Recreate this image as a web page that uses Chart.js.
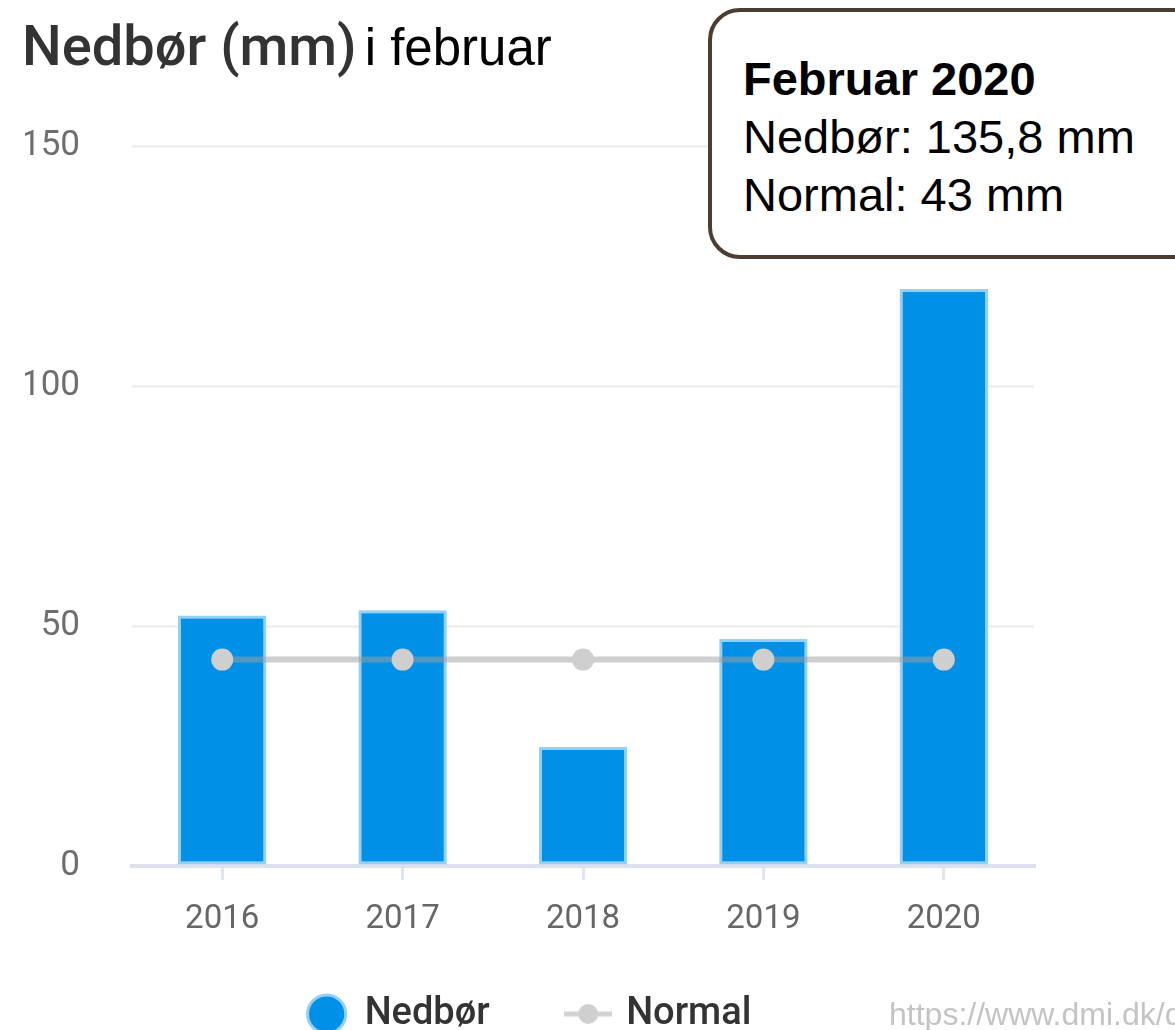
<!DOCTYPE html>
<html>
<head>
<meta charset="utf-8">
<script src="https://cdn.jsdelivr.net/npm/chart.js@4"></script>
<style>
  html, body { margin: 0; padding: 0; background: #fff; overflow: hidden; }
  #wrap { position: relative; width: 1175px; height: 1030px; overflow: hidden; }
  #chart { position: absolute; left: 0; top: 0; }
  #title { position: absolute; left: 22px; top: 18px; line-height: 56px; white-space: nowrap; }
  #title .a { font-family: Roboto, sans-serif; font-weight: 500; font-size: 56px; color: #333; }
  #title .b { font-family: "Liberation Sans", Arial, sans-serif; font-size: 51px; color: #000; margin-left: 8px; }
  #tip {
    position: absolute; left: 708px; top: 8px; width: 520px; height: 251px;
    box-sizing: border-box; border: 4px solid #4b3d31; border-radius: 32px; background: #fff;
    padding: 38px 0 0 31px; font-family: "Liberation Sans", Arial, sans-serif;
    font-size: 47px; line-height: 58px; color: #000; white-space: nowrap;
  }
  #tip b { font-weight: bold; }
  #src { position: absolute; left: 889px; top: 996px; font-family: "Liberation Sans", Arial, sans-serif;
    font-size: 32px; color: #c4c4c4; white-space: nowrap; }
</style>
</head>
<body>
<div id="wrap">
  <canvas id="chart" width="1175" height="1030"></canvas>
  <div id="title"><span class="a">Nedbør (mm)</span><span class="b">i februar</span></div>
  <div id="tip"><b>Februar 2020</b><br>Nedbør: 135,8 mm<br>Normal: 43 mm</div>
  <div id="src">https://www.dmi.dk/dokumentation</div>
</div>
<script>
// data
const years = ["2016", "2017", "2018", "2019", "2020"];
const nedbor = [52.2, 53.3, 24.8, 47.3, 120.2];
const normal = [43, 43, 43, 43, 43];
const yTicks = [0, 50, 100, 150];

// legend symbol for "Normal": a short line with a dot
const lineSymbol = document.createElement("canvas");
lineSymbol.width = 48;
lineSymbol.height = 22;
(function () {
    const c = lineSymbol.getContext("2d");
    c.strokeStyle = "#d2d2d2";
    c.lineWidth = 5;
    c.beginPath();
    c.moveTo(0, 11);
    c.lineTo(48, 11);
    c.stroke();
    c.fillStyle = "#cfcfcf";
    c.beginPath();
    c.arc(24, 11, 10, 0, Math.PI * 2);
    c.fill();
})();

Chart.defaults.font.family = "Roboto, sans-serif";

const ctx = document.getElementById("chart").getContext("2d");
new Chart(ctx, {
    type: "bar",
    data: {
        labels: years,
        datasets: [{
            type: "bar",
            label: "Nedbør",
            data: nedbor,
            backgroundColor: "#0090e8",
            borderColor: "#93d0f7",
            borderWidth: 3,
            borderSkipped: false,
            categoryPercentage: 1,
            barPercentage: 0.49,
            pointStyle: "circle",
            order: 1
        }, {
            type: "line",
            label: "Normal",
            data: normal,
            borderColor: "rgba(160,160,160,0.5)",
            borderWidth: 6,
            pointRadius: 11,
            pointBackgroundColor: "#cfcfcf",
            pointBorderWidth: 0,
            pointStyle: "circle",
            order: 0
        }]
    },
    options: {
        responsive: false,
        animation: false,
        layout: {
            padding: { top: 146, left: 25, right: 141, bottom: -13 }
        },
        plugins: {
            tooltip: { enabled: false },
            legend: {
                display: true,
                position: "bottom",
                labels: {
                    usePointStyle: true,
                    boxWidth: 38,
                    boxHeight: 27,
                    padding: 2,
                    color: "#333",
                    font: { size: 38, weight: "500" },
                    generateLabels: function (chart) {
                        const items = Chart.defaults.plugins.legend.labels.generateLabels(chart);
                        items.sort((a, b) => a.datasetIndex - b.datasetIndex);
                        items.forEach(function (it) {
                            if (it.datasetIndex === 0) {
                                it.text = it.text + "\u2003\u2003";
                            } else {
                                it.pointStyle = lineSymbol;
                            }
                        });
                        return items;
                    }
                }
            }
        },
        scales: {
            x: {
                afterFit: function (scale) { scale.height = 127; },
                grid: {
                    offset: false,
                    drawOnChartArea: false,
                    drawTicks: true,
                    tickLength: 14,
                    color: "#e1e5f0",
                    lineWidth: 3
                },
                border: { display: true, color: "#dde1ed", width: 4 },
                ticks: {
                    color: "#666",
                    padding: 20,
                    font: { size: 33 }
                }
            },
            y: {
                min: 0,
                max: 150,
                afterFit: function (scale) { scale.width = 107; },
                afterBuildTicks: function (scale) {
                    scale.ticks = yTicks.map(v => ({ value: v }));
                },
                grid: {
                    drawTicks: false,
                    color: "#f0f0f0",
                    lineWidth: 3
                },
                border: { display: false },
                ticks: {
                    color: "#6e6e6e",
                    padding: 52,
                    font: { size: 35 }
                }
            }
        }
    }
});
</script>
</body>
</html>
